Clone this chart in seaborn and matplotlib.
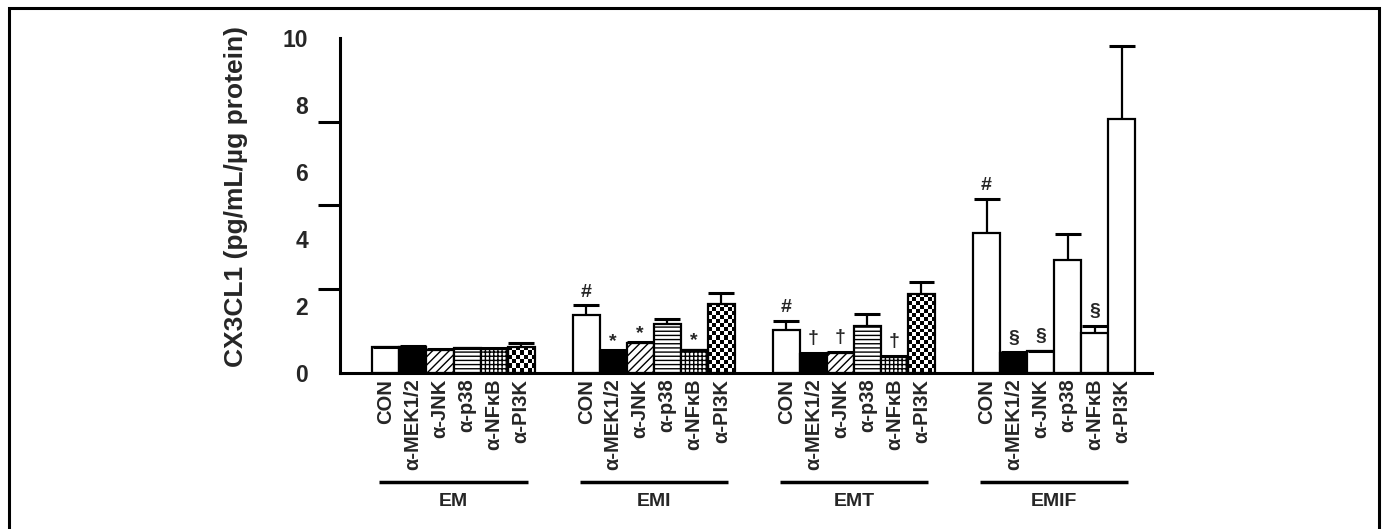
import numpy as np
import pandas as pd
import matplotlib.pyplot as plt
import seaborn as sns
from matplotlib.patches import Rectangle
from matplotlib.ticker import FixedLocator

groups = ["EM", "EMI", "EMT", "EMIF"]
treatments = ["CON", "α-MEK1/2", "α-JNK", "α-p38", "α-NFκB", "α-PI3K"]

# mean values (pg/mL/µg protein)
em_mean = [0.75, 0.77, 0.67, 0.72, 0.70, 0.77]
emi_mean = [1.72, 0.64, 0.87, 1.45, 0.66, 2.05]
emt_mean = [1.28, 0.56, 0.59, 1.40, 0.46, 2.35]
emif_mean = [4.17, 0.58, 0.63, 3.36, 1.18, 7.57]

# upper error (SEM)
em_err = [0.02, 0.02, 0.02, 0.02, 0.02, 0.11]
emi_err = [0.29, 0.02, 0.03, 0.15, 0.02, 0.33]
emt_err = [0.27, 0.02, 0.02, 0.35, 0.02, 0.37]
emif_err = [1.03, 0.02, 0.02, 0.78, 0.22, 2.19]

# significance marks
em_marks = ["", "", "", "", "", ""]
emi_marks = ["#", "*", "*", "", "*", ""]
emt_marks = ["#", "†", "†", "", "†", ""]
emif_marks = ["#", "§", "§", "", "§", ""]

means = {"EM": em_mean, "EMI": emi_mean, "EMT": emt_mean, "EMIF": emif_mean}
errs = {"EM": em_err, "EMI": emi_err, "EMT": emt_err, "EMIF": emif_err}
marks = {"EM": em_marks, "EMI": emi_marks, "EMT": emt_marks, "EMIF": emif_marks}

rows = []
for g in groups:
    for t, m in zip(treatments, means[g]):
        rows.append({"group": g, "treatment": t, "value": m})
df = pd.DataFrame(rows)

# bar fill styles
fill_colors = ["white", "black", "white", "white", "white", "white"]
hatches = ["", "", "////", "----", "++++", ""]
patterned = ["EM", "EMI", "EMT"]
mark_offset = {"#": 13, "*": 9, "†": 15, "§": 14}

sns.set_theme(style="ticks")
plt.rcParams["font.family"] = ["Liberation Sans", "DejaVu Sans"]
plt.rcParams["font.weight"] = "bold"
plt.rcParams["hatch.linewidth"] = 1.0

W, H = 1384, 529
fig = plt.figure(figsize=(W / 100, H / 100), dpi=100)
ax = fig.add_axes([340 / W, 156.5 / H, 812 / W, 334.5 / H])

sns.barplot(data=df, x="group", y="value", hue="treatment", order=groups,
            hue_order=treatments, width=0.81, palette=["white"] * 6,
            edgecolor="black", linewidth=1.6, errorbar=None, legend=False, ax=ax)

ax.set_xlim(-0.567, 3.489)
ax.set_ylim(0, 10)
px_per_unit = ax.bbox.height / 10

centers, labels = [], []
for ti, cont in enumerate(ax.containers):
    for gi, bar in enumerate(cont):
        g = groups[gi]
        bar.set_facecolor(fill_colors[ti])
        bar.set_zorder(2)
        x0, w, h = bar.get_x(), bar.get_width(), bar.get_height()
        cx = x0 + w / 2
        if g in patterned:
            bar.set_hatch(hatches[ti])
            if treatments[ti] == "α-PI3K":
                nrows = max(1, int(round(h * px_per_unit / 4)))
                board = np.indices((nrows, 7)).sum(axis=0) % 2
                im = ax.imshow(board, cmap="gray", extent=(x0, x0 + w, 0, h),
                               aspect="auto", interpolation="nearest", zorder=1.5)
                im.set_clip_path(bar)
                bar.set_facecolor("none")

        err = errs[g][ti]
        top = h + err
        ax.vlines(cx, h, top, color="black", lw=1.6, zorder=3)
        ax.hlines(top, cx - w * 0.48, cx + w * 0.48, color="black", lw=2.2, zorder=3)
        m = marks[g][ti]
        if m:
            ax.annotate(m, (cx, top), xytext=(0, mark_offset[m] / 1.389),
                        textcoords="offset points", ha="center", va="center",
                        fontsize=14, fontweight="bold")
        centers.append(cx)
        labels.append(treatments[ti])

ax.set_xlim(-0.567, 3.489)
ax.set_ylim(0, 10)

ax.set_xticks(centers, labels, rotation=90, fontsize=14.5, fontweight="bold")
ax.tick_params(axis="x", length=0, pad=4.5)

ax.set_yticks(range(0, 11, 2))
ax.tick_params(axis="y", which="major", length=0, pad=23, labelsize=16.5)
ax.yaxis.set_minor_locator(FixedLocator([0, 2.5, 5, 7.5, 10]))
ax.tick_params(axis="y", which="minor", length=16, width=2.2, direction="out", color="black")

for s in ["left", "bottom"]:
    ax.spines[s].set_linewidth(2.2)
    ax.spines[s].set_color("black")
sns.despine(ax=ax)

ax.set_xlabel("")
ax.set_ylabel("CX3CL1 (pg/mL/µg protein)", fontsize=19, fontweight="bold")
ax.yaxis.set_label_coords(-0.113, 0.525)

# group brackets under the tick labels
for gi, g in enumerate(groups):
    ax.plot([gi - 0.37, gi + 0.37], [-0.3265, -0.3265], transform=ax.get_xaxis_transform(),
            color="black", lw=2.5, clip_on=False, solid_capstyle="butt")
    ax.text(gi, -0.386, g, transform=ax.get_xaxis_transform(), ha="center", va="center",
            fontsize=14, fontweight="bold")

fig.patches.append(Rectangle((8.5 / W, -0.02), (1379 - 8.5) / W, 521.5 / H + 0.02,
                             transform=fig.transFigure, fill=False, lw=2.2, ec="black"))

fig.savefig("out.png", dpi=100)
